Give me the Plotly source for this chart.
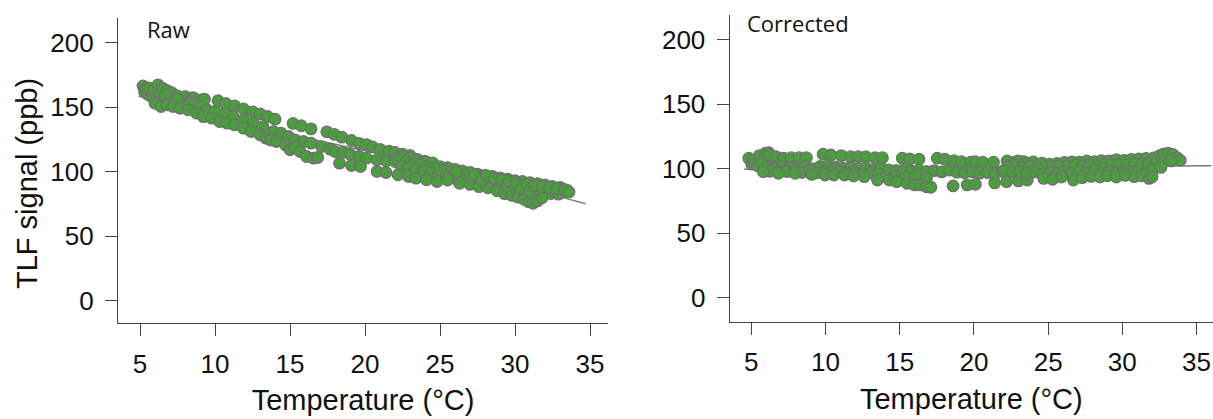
import plotly.graph_objects as go

# ---------------- Raw panel data (temperature °C, TLF ppb) ----------------
raw_cluster_t = [5.2, 5.3, 5.4, 5.5, 5.6, 5.8, 5.9, 6.1, 6.2, 6.3, 6.5, 6.6, 6.8, 6.9, 7.1, 7.3, 7.5, 7.7, 8.0, 8.3, 8.5, 8.6, 9.1, 9.3]
raw_cluster_v = [166.5, 162.0, 164.0, 160.0, 165.0, 158.0, 163.0, 155.0, 167.3, 160.0, 164.7, 156.0, 163.0, 158.0, 161.3, 156.0, 158.7, 153.5, 158.2, 155.0, 157.4, 157.0, 155.6, 156.2]

raw_upper_t = [10.2, 10.7, 11.3, 11.9, 12.5, 13.0, 13.5, 14.0, 15.2, 15.75, 16.4, 17.45, 17.95, 18.45, 19.1, 19.6, 20.1, 20.5, 21.0, 21.6, 22.0, 22.5, 23.0]
raw_upper_v = [155.0, 153.0, 151.0, 148.6, 146.4, 144.8, 142.8, 140.7, 137.4, 135.6, 133.2, 130.9, 128.9, 126.8, 124.2, 122.0, 121.0, 119.2, 117.3, 116.0, 114.9, 113.6, 112.6]

raw_mid_t = [6.67, 7.5, 8.33, 9.0, 9.45, 10.0, 10.67, 11.2, 11.9, 12.55, 13.2, 13.9, 14.4, 14.9, 15.33, 15.9, 16.4, 17.1, 17.67, 18.0, 18.5, 19.0, 19.6, 20.1, 20.8, 21.4, 22.0]
raw_mid_v = [159.5, 156.2, 153.0, 150.6, 148.0, 146.8, 145.4, 142.7, 140.2, 137.6, 135.0, 131.1, 129.9, 127.3, 124.7, 123.4, 122.1, 119.5, 117.5, 115.6, 115.0, 113.6, 111.8, 110.5, 109.2, 108.5, 107.9]

raw_lower_t = [6.0, 6.4, 6.78, 7.2, 7.67, 8.2, 8.78, 9.22, 9.78, 10.3, 10.8, 11.3, 11.9, 12.4, 13.0, 13.4, 13.7, 14.1, 14.7, 15.0, 15.3, 15.67, 16.1, 16.56, 16.85]
raw_lower_v = [153.0, 150.5, 151.8, 150.5, 149.2, 148.0, 145.4, 142.7, 141.5, 138.9, 137.6, 136.3, 133.7, 131.1, 128.6, 126.0, 124.5, 123.4, 120.8, 117.0, 119.0, 115.6, 111.8, 110.5, 111.0]

raw_iso_t = [18.3, 19.1, 19.7, 20.8, 21.4]
raw_iso_v = [106.6, 104.8, 104.0, 100.2, 99.4]

raw_rowa_t = [22.5, 23.0, 23.5, 24.0, 24.5, 25.0, 25.5, 26.0, 26.5, 27.0, 27.5, 28.0, 28.5, 29.0, 29.5, 30.0, 30.5, 31.0, 31.5, 32.0, 32.5, 33.0, 33.5]
raw_rowa_v = [112.0, 110.8, 109.5, 108.2, 106.9, 104.0, 103.2, 101.8, 100.6, 99.5, 98.2, 97.1, 96.4, 95.2, 94.3, 93.0, 92.4, 91.6, 90.8, 89.7, 88.6, 87.9, 85.5]

raw_rowb_t = [22.2, 22.7, 23.2, 23.7, 24.2, 24.7, 25.2, 25.7, 26.2, 26.7, 27.2, 27.7, 28.2, 28.7, 29.2, 29.7, 30.2, 30.7, 31.2, 31.7, 32.2, 32.7, 33.2]
raw_rowb_v = [109.0, 108.0, 106.2, 105.5, 103.4, 102.1, 101.0, 99.4, 98.6, 97.0, 96.1, 94.8, 93.6, 92.5, 91.4, 90.2, 89.5, 88.1, 87.4, 86.6, 86.0, 85.1, 84.3]

raw_rowc_t = [22.4, 22.9, 23.4, 23.9, 24.4, 24.9, 25.4, 25.9, 26.4, 26.9, 27.4, 27.9, 28.4, 28.9, 29.4, 29.9, 30.4, 30.9, 31.4, 31.9, 32.4, 32.9]
raw_rowc_v = [104.5, 103.2, 101.6, 100.3, 98.9, 97.4, 96.6, 95.1, 94.0, 92.8, 91.6, 90.7, 89.3, 88.2, 86.8, 85.5, 84.6, 83.7, 83.9, 84.2, 83.1, 82.6]

raw_rowd_t = [22.2, 22.9, 23.4, 24.1, 24.8, 25.5, 26.3, 27.0, 27.6, 28.2, 28.8, 29.3, 29.8, 30.2, 30.6, 30.9, 31.2, 31.5, 31.8]
raw_rowd_v = [97.6, 96.3, 95.0, 93.7, 92.4, 93.5, 91.0, 90.2, 88.4, 87.5, 85.2, 83.0, 81.6, 80.3, 78.6, 76.8, 75.5, 77.4, 79.8]

raw_rowe_t = [26.1, 27.3, 27.8, 28.1, 28.6, 29.1, 29.5, 29.6, 30.1, 30.4, 30.8, 31.0, 31.3, 31.8, 32.3, 32.8, 33.3, 33.6]
raw_rowe_v = [99.7, 97.9, 93.2, 96.9, 94.8, 93.9, 88.9, 92.6, 91.1, 87.0, 90.2, 85.0, 88.9, 88.2, 87.9, 86.9, 86.2, 84.2]

raw_fit_t = [4.9, 10, 15, 20, 25, 30, 34.7]
raw_fit_v = [158.7, 143.2, 129.0, 116.2, 103.6, 89.8, 75.2]

# ---------------- Corrected panel data ----------------
corr_cluster_t = [4.83, 5.03, 5.13, 5.24, 5.44, 5.54, 5.75, 5.95, 6.16, 6.26, 6.46, 6.67, 6.87, 7.18, 7.28, 7.69, 8.21, 8.72]
corr_cluster_v = [108.1, 103.5, 106.7, 104.0, 102.0, 110.1, 105.0, 111.9, 112.5, 110.6, 101.0, 109.3, 103.0, 108.1, 100.5, 108.5, 108.5, 108.5]

corr_upper_t = [9.84, 10.36, 11.07, 11.69, 12.2, 12.71, 13.33, 13.84, 15.17, 15.68, 16.3, 17.53, 18.04, 18.65, 19.17, 19.78, 20.09, 20.6, 21.32, 22.24, 22.75, 23.37]
corr_upper_v = [111.2, 110.6, 110.1, 109.3, 109.3, 109.3, 108.5, 108.5, 108.1, 107.5, 107.3, 108.1, 107.3, 106.2, 105.4, 105.0, 105.4, 105.0, 105.0, 106.0, 105.0, 105.4]

corr_m1_t = [6.05, 6.57, 7.08, 7.59, 8.1, 8.62, 9.13, 9.64, 10.15, 10.66, 11.18, 11.69, 12.2, 12.71, 13.22, 13.74, 14.25, 14.76, 15.27, 15.79, 16.3, 16.81, 17.32, 17.83, 18.35, 18.86, 19.37, 19.88, 20.4, 20.91, 21.42, 21.93, 22.44]
corr_m1_v = [101.5, 100.2, 102.0, 101.0, 99.8, 101.5, 100.0, 101.8, 102.5, 101.3, 100.4, 101.0, 99.8, 100.8, 99.5, 100.5, 99.0, 98.6, 99.2, 98.2, 99.0, 97.8, 98.5, 97.5, 98.8, 97.2, 96.8, 97.5, 96.5, 97.0, 96.2, 97.8, 99.5]

corr_m2_t = [6.26, 6.88, 7.39, 7.9, 8.41, 8.92, 9.44, 9.95, 10.46, 10.97, 11.48, 11.99, 12.51, 13.02, 13.53, 14.05, 14.66, 15.38, 16.09, 16.81]
corr_m2_v = [98.0, 97.2, 97.8, 98.5, 97.0, 98.2, 96.8, 97.8, 98.8, 97.5, 96.5, 97.2, 96.0, 96.8, 95.8, 93.5, 94.0, 93.2, 93.8, 93.0]

corr_low_t = [5.81, 6.82, 7.94, 9.07, 9.97, 10.56, 11.28, 11.89, 12.61, 13.5, 14.3, 14.8, 15.5, 16.0, 16.4, 16.8, 17.1, 18.6, 19.55, 20.1, 21.4, 22.2, 23.0, 23.6]
corr_low_v = [97.7, 96.4, 96.4, 95.6, 95.1, 95.1, 95.1, 94.3, 93.8, 91.2, 91.2, 89.9, 88.7, 87.4, 87.4, 86.0, 85.6, 86.6, 87.4, 87.9, 89.0, 89.9, 90.5, 91.2]

corr_rowa_t = [23.0, 23.5, 24.0, 24.6, 25.1, 25.6, 26.1, 26.6, 27.1, 27.6, 28.1, 28.6, 29.1, 29.6, 30.1, 30.6, 31.1, 31.6, 32.1, 32.5, 32.8, 33.1, 33.4, 33.7, 33.9]
corr_rowa_v = [106.0, 104.5, 105.2, 104.2, 103.5, 104.0, 104.8, 105.3, 105.0, 106.0, 105.5, 106.3, 106.0, 107.0, 106.5, 107.2, 107.5, 108.0, 108.3, 110.0, 111.5, 112.0, 111.0, 108.5, 106.5]

corr_rowb_t = [22.3, 22.8, 23.3, 23.8, 24.3, 24.8, 25.3, 25.8, 26.3, 26.8, 27.3, 27.8, 28.3, 28.8, 29.3, 29.8, 30.3, 30.8, 31.3, 31.8, 32.3, 32.8, 33.3]
corr_rowb_v = [101.5, 102.5, 101.0, 102.0, 101.2, 100.8, 101.5, 102.3, 101.8, 102.8, 102.0, 103.0, 102.5, 103.3, 102.8, 103.5, 103.0, 104.0, 103.5, 104.2, 105.0, 105.5, 106.0]

corr_rowc_t = [22.0, 22.6, 23.1, 23.6, 24.1, 24.6, 25.1, 25.6, 26.1, 26.6, 27.1, 27.6, 28.1, 28.6, 29.1, 29.6, 30.1, 30.6, 31.1, 31.6, 32.1, 32.6]
corr_rowc_v = [98.5, 97.5, 98.0, 96.8, 97.5, 96.0, 97.0, 96.5, 97.8, 96.3, 98.0, 97.2, 98.5, 97.0, 98.2, 96.8, 98.5, 97.5, 99.0, 97.8, 99.5, 101.0]

corr_rowd_t = [24.7, 25.3, 25.9, 26.7, 27.3, 27.9, 28.5, 29.0, 29.6, 30.2, 30.8, 31.3, 31.8, 32.0]
corr_rowd_v = [92.5, 91.8, 93.5, 91.2, 93.0, 94.0, 93.5, 94.5, 93.5, 94.8, 93.8, 94.5, 92.5, 93.5]

corr_fit_t = [4.5, 10, 15, 20, 25, 30, 36.0]
corr_fit_v = [99.6, 99.9, 100.3, 100.8, 101.3, 101.8, 102.3]

x_ticks = [5, 10, 15, 20, 25, 30, 35]
y_ticks = [0, 50, 100, 150, 200]

# ---------------- assemble ----------------
raw_t = (raw_cluster_t + raw_upper_t + raw_mid_t + raw_lower_t + raw_iso_t
         + raw_rowa_t + raw_rowb_t + raw_rowc_t + raw_rowd_t + raw_rowe_t)
raw_v = (raw_cluster_v + raw_upper_v + raw_mid_v + raw_lower_v + raw_iso_v
         + raw_rowa_v + raw_rowb_v + raw_rowc_v + raw_rowd_v + raw_rowe_v)
corr_t = (corr_cluster_t + corr_upper_t + corr_m1_t + corr_m2_t + corr_low_t
          + corr_rowa_t + corr_rowb_t + corr_rowc_t + corr_rowd_t)
corr_v = (corr_cluster_v + corr_upper_v + corr_m1_v + corr_m2_v + corr_low_v
          + corr_rowa_v + corr_rowb_v + corr_rowc_v + corr_rowd_v)

GREEN = "#4a9e3e"
EDGE = "#6f6f6f"
AXIS = "#444444"
W, H = 1213, 419

marker = dict(size=11.5, color=GREEN, line=dict(color=EDGE, width=1.3))

fig = go.Figure()
fig.add_trace(go.Scatter(x=raw_fit_t, y=raw_fit_v, mode="lines", line=dict(color="#7a7a7a", width=1.5, shape="spline"),
                         xaxis="x", yaxis="y", hoverinfo="skip"))
fig.add_trace(go.Scatter(x=raw_t, y=raw_v, mode="markers", marker=marker, xaxis="x", yaxis="y"))
fig.add_trace(go.Scatter(x=corr_fit_t, y=corr_fit_v, mode="lines", line=dict(color="#7a7a7a", width=1.5, shape="spline"),
                         xaxis="x2", yaxis="y2", hoverinfo="skip"))
fig.add_trace(go.Scatter(x=corr_t, y=corr_v, mode="markers", marker=marker, xaxis="x2", yaxis="y2"))

tickfont = dict(family="Liberation Sans, Arial, sans-serif", size=26, color="#111")
titlefont = dict(family="Liberation Sans, Arial, sans-serif", size=29, color="#111")
labelfont = dict(family="Open Sans, sans-serif", size=22, color="#111")

def xaxis(domain, rng, anchor):
    return dict(domain=domain, range=rng, anchor=anchor, showline=True, linecolor=AXIS, linewidth=1.3,
                ticks="outside", ticklen=12, tickwidth=1.3, tickcolor=AXIS, tickvals=x_ticks,
                tickfont=tickfont, ticklabelstandoff=5, ticklabeloverflow="allow",
                showgrid=False, zeroline=False,
                title=dict(text="Temperature (°C)", font=titlefont, standoff=12))

def yaxis(domain, rng, anchor):
    return dict(domain=domain, range=rng, anchor=anchor, showline=True, linecolor=AXIS, linewidth=1.3,
                ticks="outside", ticklen=12, tickwidth=1.3, tickcolor=AXIS, tickvals=y_ticks,
                tickfont=tickfont, ticklabelstandoff=6, ticklabeloverflow="allow",
                showgrid=False, zeroline=False)

fig.update_layout(
    width=W, height=H, margin=dict(l=0, r=0, t=0, b=0),
    paper_bgcolor="white", plot_bgcolor="white", showlegend=False,
    xaxis=xaxis([118 / W, 608 / W], [3.53, 36.2], "y"),
    yaxis=yaxis([1 - 323.3 / H, 1 - 18.3 / H], [-17.5, 218.9], "x"),
    xaxis2=xaxis([729.7 / W, 1.0], [3.545, 36.11], "y2"),
    yaxis2=yaxis([1 - 321.7 / H, 1 - 15 / H], [-18.6, 219.1], "x2"),
    annotations=[
        dict(text="TLF signal (ppb)", x=27 / W, y=1 - 184 / H, xref="paper", yref="paper",
             xanchor="center", yanchor="middle", textangle=-90, showarrow=False, font=titlefont),
        dict(text="Raw", x=145 / W, y=1 - 29 / H, xref="paper", yref="paper", xanchor="left", yanchor="middle",
             showarrow=False, font=labelfont),
        dict(text="Corrected", x=745 / W, y=1 - 23 / H, xref="paper", yref="paper", xanchor="left", yanchor="middle",
             showarrow=False, font=labelfont),
    ],
)

fig.write_html("out.html")
